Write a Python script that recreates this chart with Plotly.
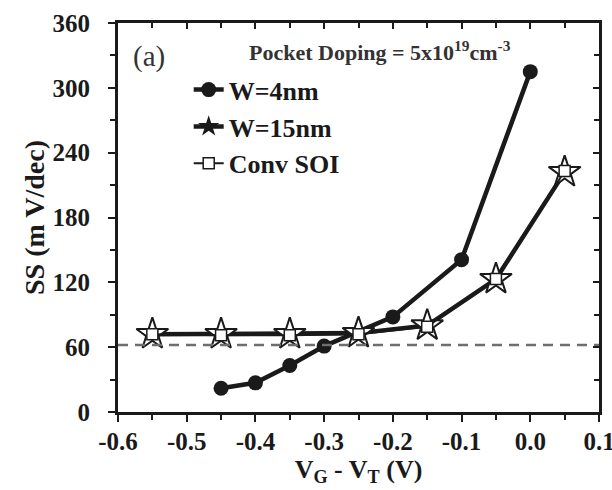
import plotly.graph_objects as go

# ---- data ----
vg_w4 = [-0.45, -0.40, -0.35, -0.30, -0.20, -0.10, 0.00]
ss_w4 = [22, 27, 43, 61, 88, 141, 315]

vg_w15 = [-0.55, -0.45, -0.35, -0.25, -0.15, -0.05, 0.05]
ss_w15 = [72, 72, 72, 73, 80, 123, 222]

vg_soi = [-0.55, -0.45, -0.35, -0.25, -0.15, -0.05, 0.05]
ss_soi = [72, 71, 71, 72, 79, 123, 223]

ideal_x = [-0.6, 0.1]
ideal_ss = [62, 62]

x_ticks = [-0.6, -0.5, -0.4, -0.3, -0.2, -0.1, 0.0, 0.1]
x_labels = ["-0.6", "-0.5", "-0.4", "-0.3", "-0.2", "-0.1", "0.0", "0.1"]
y_ticks = [0, 60, 120, 180, 240, 300, 360]
y_labels = ["0", "60", "120", "180", "240", "300", "360"]

FONT = "Liberation Serif"
BLACK = "#1a1a1a"

fig = go.Figure()

# reference dashed line (60 mV/dec limit), on the overlay axes
fig.add_trace(go.Scatter(x=ideal_x, y=ideal_ss, mode="lines",
                         line=dict(color="#6e6e6e", width=2.5, dash="10px,7px"),
                         showlegend=False, hoverinfo="skip",
                         xaxis="x2", yaxis="y2"))

# W=4nm
fig.add_trace(go.Scatter(x=vg_w4, y=ss_w4, mode="lines+markers", name="<b>W=4nm</b>",
                         line=dict(color=BLACK, width=4.5),
                         marker=dict(symbol="circle", size=15, color=BLACK),
                         legendrank=1, legendgroup="a"))

# W=15nm (plotted as open stars)
fig.add_trace(go.Scatter(x=vg_w15, y=ss_w15, mode="lines+markers", name="W=15nm",
                         line=dict(color=BLACK, width=4.5),
                         marker=dict(symbol="star", size=24, color="white",
                                     line=dict(color=BLACK, width=2)),
                         showlegend=False))

# Conv SOI
fig.add_trace(go.Scatter(x=vg_soi, y=ss_soi, mode="lines+markers", name="<b>Conv SOI</b>",
                         line=dict(color=BLACK, width=2),
                         marker=dict(symbol="square", size=11, color="white",
                                     line=dict(color=BLACK, width=1.5)),
                         legendrank=3, legendgroup="c"))

# legend proxy for W=15nm (filled star)
fig.add_trace(go.Scatter(x=[None], y=[None], mode="lines+markers", name="<b>W=15nm</b>",
                         line=dict(color=BLACK, width=4.5),
                         marker=dict(symbol="star", size=17, color=BLACK),
                         legendrank=2, legendgroup="b"))

axis_common = dict(showline=True, linewidth=3, linecolor=BLACK, mirror=True,
                   showgrid=False, zeroline=False, tickcolor=BLACK, tickwidth=2,
                   ticklabeloverflow="allow",
                   tickfont=dict(family=FONT, size=25, color=BLACK))

overlay_common = dict(showline=False, showgrid=False, zeroline=False,
                      showticklabels=False, ticks="inside", ticklen=6,
                      tickwidth=2, tickcolor=BLACK)

fig.update_layout(
    width=612, height=490,
    paper_bgcolor="white", plot_bgcolor="white",
    margin=dict(l=118, r=13, t=23, b=78, autoexpand=False),
    font=dict(family=FONT, color=BLACK),
    xaxis=dict(range=[-0.6, 0.1], tickvals=x_ticks,
               ticktext=["<b>%s</b>" % t for t in x_labels],
               ticks="outside", ticklen=7, ticklabelstandoff=-2, automargin=False,
               minor=dict(ticks="outside", dtick=0.05, ticklen=5, tickwidth=2, tickcolor=BLACK),
               title=dict(text="<b>V<sub>G</sub> - V<sub>T</sub> (V)</b>",
                          font=dict(family=FONT, size=26, color=BLACK), standoff=0),
               **axis_common),
    yaxis=dict(range=[0, 360], tickvals=y_ticks,
               ticktext=["<b>%s</b>" % t for t in y_labels],
               ticks="outside", ticklen=7, ticklabelstandoff=13, automargin=False,
               minor=dict(ticks="outside", dtick=30, ticklen=5, tickwidth=2, tickcolor=BLACK),
               title=dict(text="<b>SS (m V/dec)</b>",
                          font=dict(family=FONT, size=28, color=BLACK), standoff=0),
               **axis_common),
    xaxis2=dict(range=[-0.6, 0.1], overlaying="x", side="top", anchor="y2",
                tickvals=x_ticks,
                minor=dict(ticks="inside", dtick=0.05, ticklen=5, tickwidth=2, tickcolor=BLACK),
                **overlay_common),
    yaxis2=dict(range=[0, 360], overlaying="y", side="right", anchor="x2",
                tickvals=y_ticks,
                minor=dict(ticks="inside", dtick=30, ticklen=5, tickwidth=2, tickcolor=BLACK),
                **overlay_common),
    legend=dict(x=0.147, y=0.889, xanchor="left", yanchor="top",
                bgcolor="rgba(0,0,0,0)", tracegroupgap=0,
                font=dict(family=FONT, size=26, color=BLACK)),
    showlegend=True,
)

fig.add_annotation(xref="paper", yref="paper", x=0.027, y=0.915,
                   xanchor="left", yanchor="middle", showarrow=False,
                   text="(a)", font=dict(family=FONT, size=29, color="#333333"))
fig.add_annotation(xref="paper", yref="paper", x=0.2675, y=0.927,
                   xanchor="left", yanchor="middle", showarrow=False,
                   text="<b>Pocket Doping = 5x10<sup>19</sup>cm<sup>-3</sup></b>",
                   font=dict(family=FONT, size=22, color="#333333"))

fig.write_html("out.html", config={"displayModeBar": False},
               post_script="document.body.style.margin='0px';")
